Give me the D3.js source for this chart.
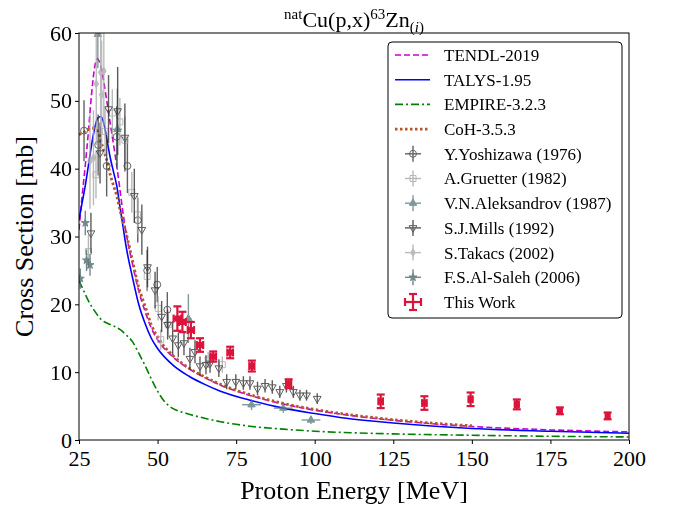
<!DOCTYPE html>
<html><head><meta charset="utf-8">
<script src="https://cdn.jsdelivr.net/npm/d3@7"></script>
<style>
body{margin:0;background:#fff}
svg{display:block}
text{font-family:"Liberation Serif","Times New Roman",serif;fill:#000}
</style>
</head><body>
<svg id="c" width="676" height="510"></svg>
<script>
// ---------- data ----------
const xTicks = [25, 50, 75, 100, 125, 150, 175, 200];
const yTicks = [0, 10, 20, 30, 40, 50, 60];

const tendlE = [25, 26, 27, 28, 29, 30, 30.8, 32, 33, 34, 35, 36, 37, 38, 39, 40, 42, 44, 46, 48, 50, 55, 60, 65, 70, 80, 90, 100, 110, 125, 150, 175, 200];
const tendlS = [31, 36, 40.5, 45.5, 51, 55, 56.2, 55, 52.5, 49.5, 46.5, 43.5, 40.5, 37, 33.5, 30.5, 26, 22, 19, 16.5, 14.8, 12.2, 10.5, 9.2, 8.1, 6.5, 5.3, 4.4, 3.7, 2.9, 2.0, 1.5, 1.2];

const talysE = [25, 26, 27, 28, 29, 30, 31, 32, 33, 34, 35, 36, 37, 38, 39, 40, 42, 44, 46, 48, 50, 55, 60, 65, 70, 80, 90, 100, 110, 125, 150, 175, 200];
const talysS = [32.5, 35, 37.5, 40.5, 43.5, 46, 47.5, 47.7, 46.5, 44, 41.5, 39.5, 37.5, 34.5, 31.5, 28.5, 24, 20, 17.2, 15, 13.5, 11, 9.4, 8.2, 7.2, 5.8, 4.7, 3.9, 3.2, 2.5, 1.7, 1.3, 1.0];

const empireE = [25, 26, 28, 30, 32, 34, 36, 38, 40, 42, 44, 46, 48, 50, 52, 54, 56, 60, 65, 70, 80, 90, 100, 125, 150, 175, 200];
const empireS = [23.5, 22.5, 20.5, 19, 17.8, 17.2, 16.8, 16.3, 15.5, 14.5, 12.8, 11, 9, 7.2, 5.8, 4.9, 4.4, 3.8, 3.2, 2.7, 2.0, 1.6, 1.3, 0.9, 0.7, 0.55, 0.45];

const cohE = [25, 27, 29, 31, 32, 33, 34, 35, 36, 37, 38, 40, 42, 44, 46, 48, 50, 55, 60, 65, 70, 80, 90, 100, 110, 125, 140, 150];
const cohS = [45, 45.5, 46, 45.5, 44, 42.5, 41, 39, 37.5, 36, 34, 30.5, 26.5, 22.5, 19.8, 17, 15.2, 12.4, 10.6, 9.3, 8.2, 6.6, 5.4, 4.5, 3.8, 3.0, 2.4, 2.1];

const yoshE = [26.6, 31.1, 33.8, 37.0, 40.4, 43.7, 46.7, 49.9, 53.1];
const yoshS = [45.6, 43.5, 40.4, 44.7, 40.4, 32.4, 25.0, 22.9, 19.2];
const yoshErr = [4.5, 4.5, 4.5, 4.5, 4.0, 3.3, 3.0, 2.6, 2.6];

const gruE = [28.0, 30.4, 33.3, 35.6, 38.0, 39.6, 41.8, 43.6, 46.7, 50.2, 51.0, 53.4, 66.1, 70.6];
const gruS = [27.8, 39.1, 45.5, 48.2, 46.9, 44.2, 36.5, 33.2, 24.1, 19.4, 14.8, 17.0, 11.8, 11.1];
const gruErr = [2.5, 3.5, 3.5, 3.5, 3.5, 3.5, 3.0, 2.8, 2.2, 1.8, 1.5, 1.6, 1.2, 1.2];

const aleE = [31.0, 37.2, 59.8, 79.9, 90.0, 98.8];
const aleS = [59.8, 45.8, 17.9, 5.2, 4.7, 2.95];
const aleErr = [5.0, 6.0, 3.6, 0.8, 0.7, 0.6];
const aleXErr = [1.0, 1.5, 1.0, 3.0, 3.0, 3.0];

const millsE = [28.8, 31.7, 34.4, 37.3, 39.6, 42.6, 45.0, 46.8, 49.2, 51.3, 53.2, 54.8, 56.6, 58.4, 60.3, 61.9, 63.5, 65.4, 66.7, 69.5, 72.0, 74.9, 77.3, 79.4, 81.8, 84.2, 86.5, 88.9, 91.0, 93.2, 95.3, 97.4, 100.8];
const millsS = [30.5, 42.3, 48.8, 48.5, 44.6, 36.0, 31.0, 25.5, 22.1, 18.2, 17.0, 15.0, 14.0, 14.3, 12.0, 13.0, 10.9, 11.1, 11.3, 10.6, 8.6, 8.6, 8.4, 8.4, 7.6, 8.0, 7.8, 7.1, 8.0, 7.1, 6.6, 6.6, 6.1];
const millsErr = [3.0, 4.5, 5.0, 6.5, 5.0, 4.0, 3.7, 3.0, 2.7, 2.3, 2.2, 2.5, 1.8, 1.8, 1.6, 1.7, 1.4, 1.4, 1.4, 1.3, 1.1, 1.1, 1.0, 1.0, 1.0, 1.0, 1.0, 0.9, 1.0, 0.9, 0.8, 0.8, 0.8];

const takE = [28.5, 29.6, 30.5, 31.9, 32.2, 32.9];
const takS = [41.1, 41.6, 52.5, 54.2, 50.9, 54.4];
const takErr = [7.0, 7.0, 9.0, 8.0, 8.0, 8.0];

const alsE = [25.4, 27.0, 27.4, 28.5];
const alsS = [23.8, 32.0, 26.5, 25.8];
const alsErr = [1.5, 1.8, 1.6, 1.6];

const workE = [56.3, 57.9, 60.6, 63.5, 67.7, 73.1, 80.0, 91.7, 121.0, 134.9, 149.6, 164.3, 178.0, 193.2];
const workS = [17.9, 17.4, 16.2, 14.0, 12.3, 12.9, 10.9, 8.3, 5.7, 5.45, 6.0, 5.25, 4.3, 3.55];
const workErr = [1.8, 1.5, 1.2, 1.0, 0.75, 0.85, 0.8, 0.65, 1.0, 1.0, 1.0, 0.73, 0.5, 0.5];
const workXErr = [1.2, 1.1, 1.0, 1.0, 0.9, 0.9, 0.8, 0.8, 0.7, 0.7, 0.6, 0.6, 0.6, 0.5];

// ---------- layout ----------
const svg = d3.select("#c");
const L = 79, R = 629, T = 33, B = 440;
const x = d3.scaleLinear().domain([25, 200]).range([L, R]);
const y = d3.scaleLinear().domain([0, 60]).range([B, T]);

svg.append("defs").append("clipPath").attr("id", "clip")
  .append("rect").attr("x", L).attr("y", T).attr("width", R - L).attr("height", B - T);

const plot = svg.append("g").attr("clip-path", "url(#clip)");

// ---------- model curves ----------
const models = [
  {name: "TENDL-2019", E: tendlE, S: tendlS, color: "#cc00cc", width: 1.6, dash: "6,3"},
  {name: "TALYS-1.95", E: talysE, S: talysS, color: "#0000ff", width: 1.6, dash: null},
  {name: "EMPIRE-3.2.3", E: empireE, S: empireS, color: "#008000", width: 1.6, dash: "8,3,2,3"},
  {name: "CoH-3.5.3", E: cohE, S: cohS, color: "#b5562a", width: 2.8, dash: "2.5,2.5"}
];
const line = d3.line().x(d => x(d[0])).y(d => y(d[1])).curve(d3.curveMonotoneX);
models.forEach(m => {
  const p = plot.append("path").datum(m.E.map((e, i) => [e, m.S[i]]))
    .attr("d", line).attr("fill", "none").attr("stroke", m.color)
    .attr("stroke-width", m.width);
  if (m.dash) p.attr("stroke-dasharray", m.dash);
});

// ---------- experimental data ----------
const exps = [
  {name: "Y.Yoshizawa (1976)", E: yoshE, S: yoshS, dS: yoshErr, dE: null, color: "#3a3a3a", sym: d3.symbolCircle, size: 38, filled: false},
  {name: "A.Gruetter (1982)", E: gruE, S: gruS, dS: gruErr, dE: null, color: "#a6a6a6", sym: d3.symbolSquare, size: 36, filled: false},
  {name: "V.N.Aleksandrov (1987)", E: aleE, S: aleS, dS: aleErr, dE: aleXErr, color: "#5f8080", sym: d3.symbolTriangle, size: 24, filled: true},
  {name: "S.J.Mills (1992)", E: millsE, S: millsS, dS: millsErr, dE: null, color: "#333333", sym: "tridown", size: 26, filled: false},
  {name: "S.Takacs (2002)", E: takE, S: takS, dS: takErr, dE: null, color: "#aaaaaa", sym: d3.symbolDiamond, size: 18, filled: true},
  {name: "F.S.Al-Saleh (2006)", E: alsE, S: alsS, dS: alsErr, dE: null, color: "#4e6b6b", sym: d3.symbolStar, size: 20, filled: true}
];

function symPath(sym, size) {
  if (sym === "tridown") return d3.symbol(d3.symbolTriangle, size)();
  return d3.symbol(sym, size)();
}
function drawMarker(g, s, cx, cy) {
  const p = g.append("path").attr("d", symPath(s.sym, s.size))
    .attr("transform", `translate(${cx},${cy})` + (s.sym === "tridown" ? " rotate(180)" : ""))
    .attr("stroke", s.color).attr("stroke-width", 1);
  p.attr("fill", s.filled ? s.color : "none");
}

exps.forEach(s => {
  const g = plot.append("g").attr("opacity", 0.8);
  s.E.forEach((e, i) => {
    const cx = x(e), cy = y(s.S[i]);
    g.append("line").attr("x1", cx).attr("x2", cx)
      .attr("y1", y(s.S[i] - s.dS[i])).attr("y2", y(s.S[i] + s.dS[i]))
      .attr("stroke", s.color).attr("stroke-width", 1.4);
    if (s.dE) {
      g.append("line").attr("y1", cy).attr("y2", cy)
        .attr("x1", x(e - s.dE[i])).attr("x2", x(e + s.dE[i]))
        .attr("stroke", s.color).attr("stroke-width", 1.4);
    }
    drawMarker(g, s, cx, cy);
  });
});

// ---------- this work ----------
const red = "#dc143c";
const gw = plot.append("g");
workE.forEach((e, i) => {
  const cx = x(e), cy = y(workS[i]);
  const y1 = y(workS[i] - workErr[i]), y2 = y(workS[i] + workErr[i]);
  const x1 = x(e - workXErr[i]), x2 = x(e + workXErr[i]);
  gw.append("line").attr("x1", cx).attr("x2", cx).attr("y1", y1).attr("y2", y2).attr("stroke", red).attr("stroke-width", 2.2);
  gw.append("line").attr("x1", x1).attr("x2", x2).attr("y1", cy).attr("y2", cy).attr("stroke", red).attr("stroke-width", 2.2);
  [y1, y2].forEach(yy => gw.append("line").attr("x1", cx - 4).attr("x2", cx + 4).attr("y1", yy).attr("y2", yy).attr("stroke", red).attr("stroke-width", 2.2));
  [x1, x2].forEach(xx => gw.append("line").attr("x1", xx).attr("x2", xx).attr("y1", cy - 4).attr("y2", cy + 4).attr("stroke", red).attr("stroke-width", 2.2));
  gw.append("rect").attr("x", cx - 3).attr("y", cy - 3).attr("width", 6).attr("height", 6).attr("fill", red);
});

// ---------- axes ----------
const xAxis = svg.append("g").attr("transform", `translate(0,${B})`)
  .call(d3.axisBottom(x).tickValues(xTicks).tickSize(4).tickPadding(3));
const yAxis = svg.append("g").attr("transform", `translate(${L},0)`)
  .call(d3.axisLeft(y).tickValues(yTicks).tickSize(4).tickPadding(3));
[xAxis, yAxis].forEach(a => {
  a.select(".domain").remove();
  a.selectAll("text").style("font-family", "'Liberation Serif', serif").style("font-size", "22px").attr("fill", "#000");
  a.selectAll("line").attr("stroke", "#000");
});
xAxis.selectAll("text").attr("dy", "0.85em");
svg.append("rect").attr("x", L).attr("y", T).attr("width", R - L).attr("height", B - T)
  .attr("fill", "none").attr("stroke", "#000").attr("stroke-width", 1);

// labels
svg.append("text").attr("x", (L + R) / 2).attr("y", 499).attr("text-anchor", "middle")
  .style("font-size", "26px").text("Proton Energy [MeV]");
svg.append("text").attr("transform", `translate(33,${(T + B) / 2}) rotate(-90)`).attr("text-anchor", "middle")
  .style("font-size", "26px").text("Cross Section [mb]");

// title
const title = svg.append("text").attr("x", (L + R) / 2).attr("y", 27).attr("text-anchor", "middle").style("font-size", "22px");
title.append("tspan").attr("dy", "-8").style("font-size", "15px").text("nat");
title.append("tspan").attr("dy", "8").text("Cu(p,x)");
title.append("tspan").attr("dy", "-8").style("font-size", "15px").text("63");
title.append("tspan").attr("dy", "8").text("Zn");
title.append("tspan").attr("dy", "5").style("font-size", "15px").text("(");
title.append("tspan").style("font-size", "15px").style("font-style", "italic").text("i");
title.append("tspan").style("font-size", "15px").text(")");

// ---------- legend ----------
const lg = svg.append("g");
lg.append("rect").attr("x", 388).attr("y", 42).attr("width", 234).attr("height", 276).attr("rx", 4)
  .attr("fill", "#fff").attr("stroke", "#000").attr("stroke-width", 1);
const rowY = i => 55 + i * 24.7;
const fs = "17px";
models.forEach((m, i) => {
  const yy = rowY(i);
  const l = lg.append("line").attr("x1", 395).attr("x2", 430).attr("y1", yy).attr("y2", yy)
    .attr("stroke", m.color).attr("stroke-width", m.width);
  if (m.dash) l.attr("stroke-dasharray", m.dash);
  lg.append("text").attr("x", 444).attr("y", yy).attr("dy", "0.35em").style("font-size", fs).text(m.name);
});
exps.forEach((s, j) => {
  const i = j + 4, yy = rowY(i), cx = 413;
  const g = lg.append("g").attr("opacity", 0.8);
  g.append("line").attr("x1", cx).attr("x2", cx).attr("y1", yy - 8).attr("y2", yy + 8).attr("stroke", s.color).attr("stroke-width", 1.4);
  g.append("line").attr("x1", cx - 8).attr("x2", cx + 8).attr("y1", yy).attr("y2", yy).attr("stroke", s.color).attr("stroke-width", 1.4);
  drawMarker(g, s, cx, yy);
  lg.append("text").attr("x", 444).attr("y", yy).attr("dy", "0.35em").style("font-size", fs).text(s.name);
});
{
  const yy = rowY(10), cx = 413;
  lg.append("line").attr("x1", cx).attr("x2", cx).attr("y1", yy - 8).attr("y2", yy + 8).attr("stroke", red).attr("stroke-width", 2.2);
  lg.append("line").attr("x1", cx - 8).attr("x2", cx + 8).attr("y1", yy).attr("y2", yy).attr("stroke", red).attr("stroke-width", 2.2);
  [yy - 8, yy + 8].forEach(v => lg.append("line").attr("x1", cx - 4).attr("x2", cx + 4).attr("y1", v).attr("y2", v).attr("stroke", red).attr("stroke-width", 2.2));
  [cx - 8, cx + 8].forEach(v => lg.append("line").attr("x1", v).attr("x2", v).attr("y1", yy - 4).attr("y2", yy + 4).attr("stroke", red).attr("stroke-width", 2.2));
  lg.append("text").attr("x", 444).attr("y", yy).attr("dy", "0.35em").style("font-size", fs).text("This Work");
}
</script>
</body></html>
